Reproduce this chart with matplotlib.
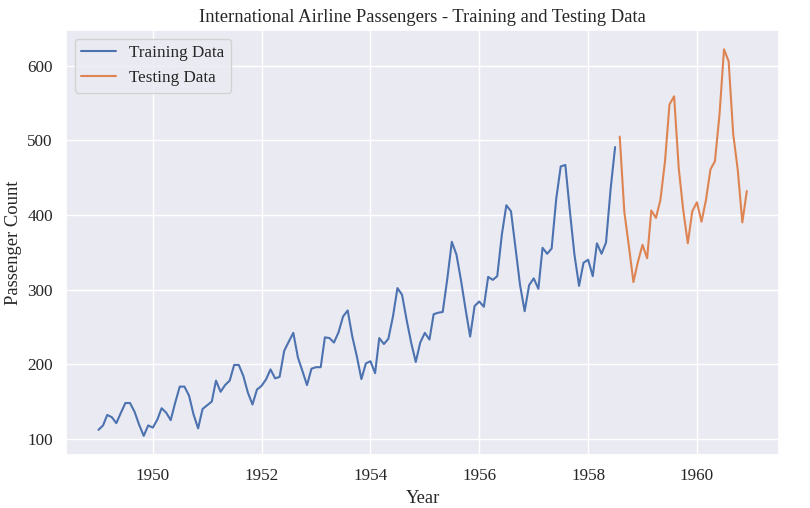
import pandas as pd
import matplotlib
matplotlib.use("Agg")
import matplotlib.pyplot as plt
import matplotlib.dates as mdates
import seaborn as sns

# monthly passengers 1949-1960 (thousands)
passengers = [
    112, 118, 132, 129, 121, 135, 148, 148, 136, 119, 104, 118,
    115, 126, 141, 135, 125, 149, 170, 170, 158, 133, 114, 140,
    145, 150, 178, 163, 172, 178, 199, 199, 184, 162, 146, 166,
    171, 180, 193, 181, 183, 218, 230, 242, 209, 191, 172, 194,
    196, 196, 236, 235, 229, 243, 264, 272, 237, 211, 180, 201,
    204, 188, 235, 227, 234, 264, 302, 293, 259, 229, 203, 229,
    242, 233, 267, 269, 270, 315, 364, 347, 312, 274, 237, 278,
    284, 277, 317, 313, 318, 374, 413, 405, 355, 306, 271, 306,
    315, 301, 356, 348, 355, 422, 465, 467, 404, 347, 305, 336,
    340, 318, 362, 348, 363, 435, 491, 505, 404, 359, 310, 337,
    360, 342, 406, 396, 420, 472, 548, 559, 463, 407, 362, 405,
    417, 391, 419, 461, 472, 535, 622, 606, 508, 461, 390, 432,
]
months = pd.date_range("1949-01-01", periods=len(passengers), freq="MS")
split = int(len(passengers) * 0.8)

df = pd.DataFrame({"Passengers": passengers}, index=months)
train = df.iloc[:split]
test = df.iloc[split:]

sns.set_theme(style="darkgrid", font_scale=1.12)
plt.rcParams['font.family'] = ['Liberation Serif', 'DejaVu Serif']

fig, ax = plt.subplots(figsize=(8.1, 5.08), dpi=100)
ax.plot(train.index, train["Passengers"], label="Training Data")
ax.plot(test.index, test["Passengers"], label="Testing Data")
ax.xaxis.set_major_locator(mdates.YearLocator(2))
ax.xaxis.set_major_formatter(mdates.DateFormatter("%Y"))
ax.set_title("International Airline Passengers - Training and Testing Data")
ax.set_xlabel("Year")
ax.set_ylabel("Passenger Count")
ax.legend(loc="upper left")
plt.subplots_adjust(left=0.0815, right=0.962, top=0.941, bottom=0.104)
plt.savefig("out.png")
